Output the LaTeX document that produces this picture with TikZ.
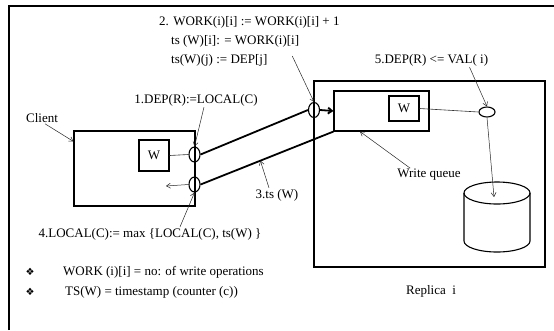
\documentclass[tikz,border=0pt]{standalone}
\usepackage{fontspec}
\setmainfont{Liberation Serif}
\newfontfamily\symfont{DejaVu Sans}
\usetikzlibrary{arrows.meta,positioning,calc,shapes.geometric}

\begin{document}
\begin{tikzpicture}[x=1pt,y=-1pt,
    bx/.style={draw,line width=1.1pt,inner sep=0pt},
    el/.style={draw,ellipse,line width=1.1pt,inner sep=0pt,minimum width=11pt,minimum height=15pt},
    lb/.style={inner sep=1pt,font=\fontsize{13}{15}\selectfont},
    ar/.style={-{Straight Barb[length=4pt,width=5pt]},line width=0.5pt,black!85},
    tk/.style={line width=1.8pt}
]
\useasboundingbox (0,0) rectangle (554,330);
% page frame
\draw[line width=1.6pt] (9,330) -- (9,6) -- (554,6);
% client side
\node[bx,minimum width=121pt,minimum height=75pt] (client) at (134.5,168.5) {};
\node[bx,lb,minimum width=30pt,minimum height=31pt,inner sep=0pt] (wc) at (154,155.5) {W};
\node[el] (e1) at (194.5,154.5) {};
\node[el] (e2) at (194.5,184.5) {};
\node[lb] (clientlbl) at (42,118) {Client};
\node[lb] (deplbl) at (196,100) {1.DEP(R):=LOCAL(C)};
\node[lb] (loclbl) at (150,234) {4.LOCAL(C):= max \{LOCAL(C), ts(W) \}};
% replica side
\node[bx,minimum width=231pt,minimum height=186pt] (rep) at (429.5,174) {};
\node[bx,minimum width=95pt,minimum height=40pt] (wq) at (381.5,111) {};
\node[bx,lb,minimum width=30pt,minimum height=25pt,inner sep=0pt] (wr) at (404,108.5) {W};
\node[el] (er) at (314,110) {};
\node[el,minimum width=16pt,minimum height=10pt] (e5) at (487,112) {};
\node[lb] (wqlbl) at (429,175) {Write queue};
\node[lb] (replbl) at (431,291) {Replica~ i};
\node[lb] (vallbl) at (431.5,60) {5.DEP(R) <= VAL( i)};
% step 2 text
\node[lb,anchor=west] (w2a) at (158,22) {2. WORK(i)[i] := WORK(i)[i] + 1};
\node[lb,anchor=west] (w2b) at (170,41) {ts (W)[i]: = WORK(i)[i]};
\node[lb,anchor=west] (w2c) at (170,60) {ts(W)(j) := DEP[j]};
\node[lb] (tslbl) at (277,195) {3.ts (W)};
% database
\draw[line width=1.1pt] (464,193) -- (464,241) arc (180:360:33pt and 11pt) -- (530,193);
\draw[line width=1.1pt] (497,193) ellipse [x radius=33pt, y radius=11pt];
\coordinate (db) at (494,197);
\coordinate (back) at (166,186);
% notes
\node[lb,font=\symfont\fontsize{10}{12}\selectfont] (b1) at (30,272) {❖};
\node[lb,font=\symfont\fontsize{10}{12}\selectfont] (b2) at (30,292) {❖};
\node[lb,anchor=west] (n1) at (62,272) {WORK (i)[i] = no: of write operations};
\node[lb,anchor=west] (n2) at (64,292) {TS(W) = timestamp (counter (c))};
% connectors
\draw[line width=0.6pt,black!80] (wc.east) -- (e1.west);
\draw[line width=0.6pt,black!80] (wr.east) -- (e5.west);
\draw[tk] (e1.east) -- (er.west);
\draw[tk] (e2.east) -- coordinate[pos=0.45] (tsw) (wq.south west);
\draw[tk,-{Straight Barb[length=4pt,width=6pt]}] (er.east) -- (wq.west);
\draw[ar] ([xshift=3pt]clientlbl.south) -- ([yshift=-11pt]client.north west);
\draw[ar] ([xshift=8pt]deplbl.south) -- (e1.north);
\draw[ar] (e2.west) -- (back);
\draw[ar] ([xshift=30pt]loclbl.north) -- (e2.south);
\draw[ar] ([xshift=-8pt]tslbl.north) -- (tsw);
\draw[ar] ([xshift=-8pt,yshift=-8pt]w2b.south east) -- (er.north);
\draw[ar] ([xshift=38pt]vallbl.south) -- (e5.north);
\draw[ar] (e5.south) -- (db);
\draw[ar] ([xshift=14pt]wqlbl.north west) -- ([xshift=-21.5pt]wq.south);
\end{tikzpicture}
\end{document}
